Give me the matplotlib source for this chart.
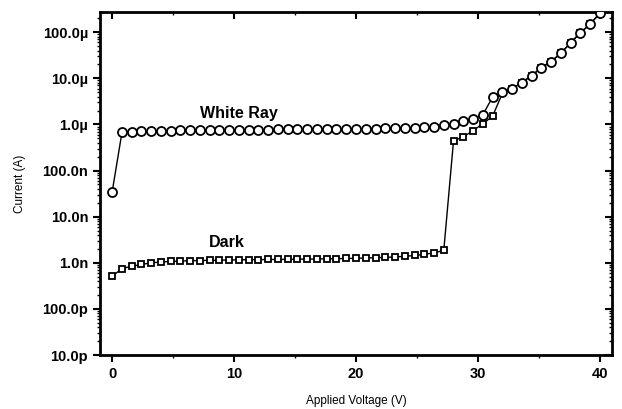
import matplotlib
matplotlib.use('Agg')
import matplotlib.pyplot as plt
import matplotlib.ticker as mticker
import numpy as np

# applied voltage steps (V)
voltage = [0.0, 0.8, 1.6, 2.4, 3.2, 4.0, 4.8, 5.6, 6.4, 7.2, 8.0, 8.8, 9.6, 10.4, 11.2,
           12.0, 12.8, 13.6, 14.4, 15.2, 16.0, 16.8, 17.6, 18.4, 19.2, 20.0, 20.8, 21.6,
           22.4, 23.2, 24.0, 24.8, 25.6, 26.4, 27.2, 28.0, 28.8, 29.6, 30.4, 31.2, 32.0,
           32.8, 33.6, 34.4, 35.2, 36.0, 36.8, 37.6, 38.4, 39.2, 40.0]

# current under white light (A)
white_ray = [3.5e-8, 6.7e-7, 7.0e-7, 7.1e-7, 7.2e-7, 7.3e-7, 7.35e-7, 7.4e-7, 7.45e-7,
             7.5e-7, 7.55e-7, 7.6e-7, 7.6e-7, 7.65e-7, 7.7e-7, 7.7e-7, 7.75e-7, 7.8e-7,
             7.8e-7, 7.85e-7, 7.9e-7, 7.9e-7, 7.95e-7, 8.0e-7, 8.0e-7, 8.05e-7, 8.1e-7,
             8.15e-7, 8.2e-7, 8.3e-7, 8.4e-7, 8.55e-7, 8.7e-7, 9.0e-7, 9.5e-7, 1.0e-6,
             1.16e-6, 1.33e-6, 1.62e-6, 3.9e-6, 5.0e-6, 5.95e-6, 8.1e-6, 1.14e-5, 1.7e-5,
             2.3e-5, 3.5e-5, 5.9e-5, 9.7e-5, 1.5e-4, 2.57e-4]

# dark current (A)
dark = [5.1e-10, 7.5e-10, 8.4e-10, 9.2e-10, 1.0e-9, 1.04e-9, 1.07e-9, 1.09e-9, 1.11e-9,
        1.12e-9, 1.13e-9, 1.14e-9, 1.15e-9, 1.16e-9, 1.17e-9, 1.17e-9, 1.18e-9, 1.18e-9,
        1.19e-9, 1.2e-9, 1.2e-9, 1.21e-9, 1.22e-9, 1.23e-9, 1.24e-9, 1.25e-9, 1.27e-9,
        1.29e-9, 1.31e-9, 1.34e-9, 1.38e-9, 1.44e-9, 1.52e-9, 1.65e-9, 1.85e-9, 4.4e-7,
        5.4e-7, 7.3e-7, 1.04e-6, 1.5e-6, 4.7e-6, 5.95e-6, 8.1e-6, 1.14e-5, 1.7e-5,
        2.3e-5, 3.5e-5, 5.9e-5, 9.7e-5, 1.5e-4, 2.57e-4]

y_ticks = [1e-11, 1e-10, 1e-9, 1e-8, 1e-7, 1e-6, 1e-5, 1e-4]
y_labels = ['10.0p', '100.0p', '1.0n', '10.0n', '100.0n', '1.0\u00b5', '10.0\u00b5', '100.0\u00b5']
x_ticks = [0, 10, 20, 30, 40]

plt.rcParams['font.family'] = ['Liberation Sans', 'DejaVu Sans']
plt.rcParams['font.weight'] = 'bold'

fig = plt.figure(figsize=(6.22, 4.09), dpi=100)
ax = fig.add_axes([0.1608, 0.132, 0.8231, 0.8387])

ax.plot(voltage, white_ray, color='black', lw=1, marker='o', ms=6.5,
        mfc='white', mec='black', mew=1.3, zorder=3)
ax.plot(voltage, dark, color='black', lw=1, marker='s', ms=5,
        mfc='white', mec='black', mew=1.3, zorder=2)

ax.set_yscale('log')
ax.set_xlim(-1, 41)
ax.set_ylim(1e-11, 2.75e-4)

ax.set_yticks(y_ticks)
ax.set_yticklabels(y_labels)
ax.yaxis.set_minor_locator(mticker.LogLocator(base=10, subs=np.arange(2, 10), numticks=20))
ax.yaxis.set_minor_formatter(mticker.NullFormatter())
ax.set_xticks(x_ticks)
ax.xaxis.set_minor_locator(mticker.MultipleLocator(5))

for s in ax.spines.values():
    s.set_linewidth(2)

ax.tick_params(which='major', length=5, width=1.5, labelsize=10.5)
ax.tick_params(which='minor', length=2.5, width=1)
ax.tick_params(axis='x', which='both', direction='out', top=False)
ax.tick_params(axis='y', which='both', direction='out', right=False)

# mirrored inward ticks on top and right
axt = ax.secondary_xaxis('top')
axt.set_xticks(x_ticks)
axt.xaxis.set_minor_locator(mticker.MultipleLocator(5))
axt.tick_params(which='major', direction='in', length=5, width=1.5, labeltop=False)
axt.tick_params(which='minor', direction='in', length=2.5, width=1)
axr = ax.secondary_yaxis('right')
axr.set_yticks(y_ticks)
axr.yaxis.set_minor_locator(mticker.LogLocator(base=10, subs=np.arange(2, 10), numticks=20))
axr.yaxis.set_minor_formatter(mticker.NullFormatter())
axr.tick_params(which='major', direction='in', length=5, width=1.5, labelright=False)
axr.tick_params(which='minor', direction='in', length=2.5, width=1)

ax.set_xlabel('Applied Voltage (V)', fontsize=8.5, labelpad=10)
ax.set_ylabel('Current (A)', fontsize=8.5, labelpad=12)

ax.text(10.4, 1.75e-6, 'White Ray', fontsize=11.5, ha='center', va='center')
ax.text(9.4, 2.8e-9, 'Dark', fontsize=11.5, ha='center', va='center')

fig.savefig('out.png', dpi=100)
